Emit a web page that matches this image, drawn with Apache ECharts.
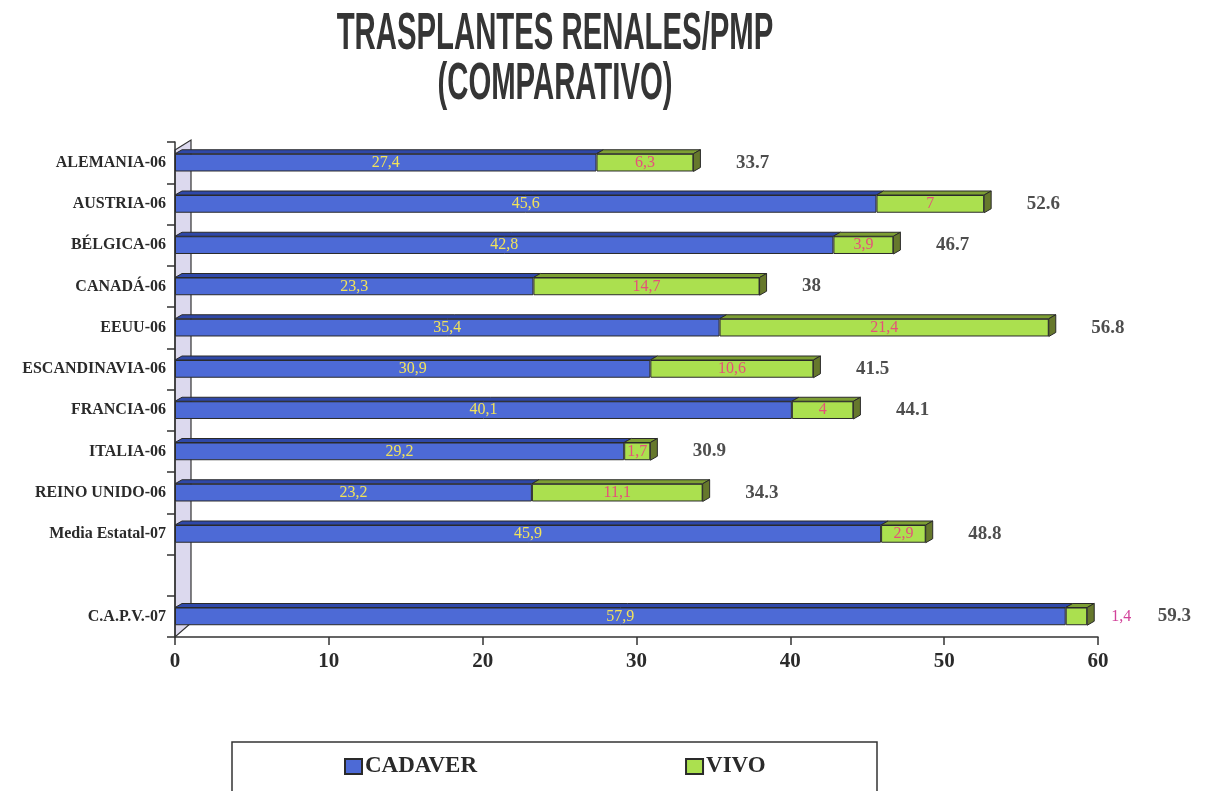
<!DOCTYPE html>
<html>
<head>
<meta charset="utf-8">
<script src="https://cdn.jsdelivr.net/npm/echarts@6/dist/echarts.min.js"></script>
<style>
  html, body { margin: 0; padding: 0; background: #ffffff; }
  #chart { width: 1208px; height: 791px; }
</style>
</head>
<body>
<div id="chart"></div>
<script>
// ---- data (top to bottom; '' is the empty slot) ----
const categories = ['ALEMANIA-06', 'AUSTRIA-06', 'BÉLGICA-06', 'CANADÁ-06', 'EEUU-06',
  'ESCANDINAVIA-06', 'FRANCIA-06', 'ITALIA-06', 'REINO UNIDO-06', 'Media Estatal-07', '', 'C.A.P.V.-07'];
const cadaver = [27.4, 45.6, 42.8, 23.3, 35.4, 30.9, 40.1, 29.2, 23.2, 45.9, null, 57.9];
const vivo    = [6.3, 7, 3.9, 14.7, 21.4, 10.6, 4, 1.7, 11.1, 2.9, null, 1.4];
const totals  = [33.7, 52.6, 46.7, 38, 56.8, 41.5, 44.1, 30.9, 34.3, 48.8, null, 59.3];
const xTicks  = [0, 10, 20, 30, 40, 50, 60];

// ---- styling ----
const BLUE = '#4d6ad6', BLUE_TOP = '#2f48a8';
const GREEN = '#abe04f', GREEN_TOP = '#7d9f33', GREEN_SIDE = '#66782c';
const EDGE = '#2a2a2a';
const SERIF = '"Liberation Serif", "Times New Roman", serif';
const G = { left: 175, right: 110, top: 142, bottom: 154 };
const BAR_FRAC = 0.43, DX = 7, DY = 4;

const chart = echarts.init(document.getElementById('chart'));

const comma = v => String(v).replace('.', ',');

const option = {
  backgroundColor: '#ffffff',
  animation: false,
  grid: { left: G.left, right: G.right, top: G.top, bottom: G.bottom, containLabel: false },
  xAxis: {
    type: 'value', min: xTicks[0], max: xTicks[xTicks.length - 1], interval: 10,
    axisLine: { show: true, lineStyle: { color: '#333', width: 1.5 } },
    axisTick: { show: true, length: 8, lineStyle: { color: '#333', width: 1.5 } },
    splitLine: { show: false },
    axisLabel: { color: '#2a2a2a', fontFamily: SERIF, fontWeight: 'bold', fontSize: 21, margin: 14 }
  },
  yAxis: {
    type: 'category', inverse: true, data: categories,
    axisLine: { show: true, lineStyle: { color: '#333', width: 1.5 } },
    axisTick: { show: true, length: 8, lineStyle: { color: '#333', width: 1.5 } },
    axisLabel: { color: '#2a2a2a', fontFamily: SERIF, fontWeight: 'bold', fontSize: 16, margin: 9 }
  },
  legend: {
    data: ['CADAVER', 'VIVO'],
    left: 339, top: 750, itemGap: 208, itemWidth: 17, itemHeight: 15, icon: 'rect',
    textStyle: { color: '#2a2a2a', fontFamily: SERIF, fontWeight: 'bold', fontSize: 23, padding: [0, 0, 0, -2] }
  },
  graphic: [
    { type: 'text', x: 555, y: 35, scaleX: 0.575, silent: true,
      style: { text: 'TRASPLANTES RENALES/PMP', fill: '#353535', textAlign: 'center', textVerticalAlign: 'middle',
               font: 'bold 51px "Liberation Sans", Arial, sans-serif' } },
    { type: 'text', x: 555, y: 85, scaleX: 0.575, silent: true,
      style: { text: '(COMPARATIVO)', fill: '#353535', textAlign: 'center', textVerticalAlign: 'middle',
               font: 'bold 51px "Liberation Sans", Arial, sans-serif' } },
    { type: 'polygon', z: -1, silent: true,
      shape: { points: [[G.left, G.top + 8], [G.left + 16, G.top - 2], [G.left + 16, 791 - G.bottom - 14], [G.left, 791 - G.bottom]] },
      style: { fill: '#dcd9ee', stroke: '#333', lineWidth: 1.2 } },
    { type: 'rect', silent: true,
      shape: { x: 232, y: 742, width: 645, height: 80 },
      style: { fill: 'none', stroke: '#333', lineWidth: 1.5 } }
  ],
  series: [
    {
      name: 'CADAVER', type: 'bar', stack: 'total', barWidth: (BAR_FRAC * 100) + '%',
      itemStyle: { color: BLUE, borderColor: EDGE, borderWidth: 1 },
      label: { show: true, position: 'inside', color: '#f2e35a', fontFamily: SERIF, fontSize: 16,
               formatter: p => comma(p.value) },
      data: cadaver
    },
    {
      name: 'VIVO', type: 'bar', stack: 'total', barWidth: (BAR_FRAC * 100) + '%',
      itemStyle: { color: GREEN, borderColor: EDGE, borderWidth: 1 },
      label: { show: true, position: 'inside', color: '#e6507a', fontFamily: SERIF, fontSize: 16,
               formatter: p => comma(p.value) },
      data: vivo.map(v => (v != null && v < 1.5)
        ? { value: v, label: { position: 'right', distance: 24, color: '#d2429a' } }
        : v)
    },
    {
      name: '3d', type: 'custom', z: 3, silent: true,
      encode: { y: 0, x: [1, 2] },
      data: categories.map((c, i) => [i, cadaver[i], vivo[i]]),
      renderItem: function (params, api) {
        const cad = api.value(1), viv = api.value(2);
        if (cad == null || isNaN(cad)) return;
        const i = api.value(0);
        const p0 = api.coord([0, i]), p1 = api.coord([cad, i]), p2 = api.coord([cad + viv, i]);
        const h = api.size([0, 1])[1] * BAR_FRAC;
        const yt = p0[1] - h / 2, yb = p0[1] + h / 2;
        const st = (fill) => ({ fill: fill, stroke: EDGE, lineWidth: 1 });
        return {
          type: 'group',
          children: [
            { type: 'polygon', shape: { points: [[p0[0], yt], [p1[0], yt], [p1[0] + DX, yt - DY], [p0[0] + DX, yt - DY]] }, style: st(BLUE_TOP) },
            { type: 'polygon', shape: { points: [[p1[0], yt], [p2[0], yt], [p2[0] + DX, yt - DY], [p1[0] + DX, yt - DY]] }, style: st(GREEN_TOP) },
            { type: 'polygon', shape: { points: [[p2[0], yt], [p2[0] + DX, yt - DY], [p2[0] + DX, yb - DY], [p2[0], yb]] }, style: st(GREEN_SIDE) }
          ]
        };
      }
    },
    {
      name: 'TOTAL', type: 'scatter', symbolSize: 1, silent: true,
      itemStyle: { color: 'rgba(0,0,0,0)' },
      label: { show: true, position: 'right', color: '#222', fontFamily: SERIF, fontWeight: 'bold', fontSize: 19,
               formatter: p => String(p.value[0]) },
      data: totals.map((t, i) => t == null ? null : {
        value: [t, i],
        label: { distance: (vivo[i] < 1.5) ? 70 : 42 }
      })
    }
  ]
};
chart.setOption(option);
</script>
</body>
</html>
